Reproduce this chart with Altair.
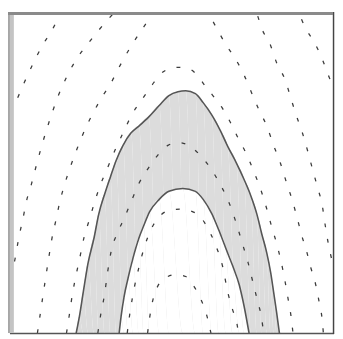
import altair as alt
import pandas as pd

# Contour curves, each listed left -> right.
# x: 0..100 across the frame, y: 0..100 bottom -> top.
dm1_x = [42.6, 43.2, 44.1, 45.6, 48.3, 51.4, 54.4, 57.1, 59.2, 61.0, 62.2]
dm1_y = [0, 4.6, 9.7, 14.3, 17.3, 18.2, 17.6, 14.3, 10.3, 5.2, 0]

d0_x = [36.3, 37.2, 38.4, 39.9, 41.7, 43.8, 46.8, 49.8, 52.9, 55.9, 58.9, 61.3, 63.4, 65.9, 67.4, 68.9, 70.4, 70.7]
d0_y = [0, 6.7, 13.7, 20.4, 27.1, 32.5, 36.8, 38.3, 38.6, 38.0, 36.2, 32.5, 28.0, 20.4, 12.8, 7.3, 2.1, 0]

s2_x = [33.8, 34.4, 35.3, 36.6, 38.1, 39.9, 41.4, 43.2, 46.2, 49.2, 53.5, 57.4, 59.8, 62.5, 64.7, 66.8, 68.9, 71.0, 72.5, 74.0]
s2_y = [0, 5.2, 11.2, 17.3, 23.4, 29.5, 33.4, 37.7, 41.6, 44.1, 45.0, 44.1, 41.6, 37.1, 31.9, 26.4, 21.0, 14.9, 8.2, 0]

d1_x = [27.2, 28.1, 29.3, 30.2, 31.4, 33.2, 35.3, 37.8, 39.9, 42.9, 46.2, 48.9, 52.0, 55.3, 58.9, 62.8, 65.6, 68.0, 70.1, 71.9, 73.7, 75.2, 76.7, 77.9, 78.5]
d1_y = [0, 5.8, 12.2, 18.8, 25.8, 31.0, 35.6, 41.6, 46.5, 51.4, 55.9, 58.4, 59.3, 58.4, 55.3, 50.2, 45.3, 40.1, 34.0, 28.0, 21.9, 15.8, 9.7, 4.6, 0]

s1_x = [20.5, 21.5, 22.7, 24.2, 26.0, 27.5, 29.3, 31.1, 32.9, 35.0, 37.5, 39.9, 42.9, 46.2, 49.2, 52.0, 54.4, 57.4, 59.8, 62.5, 65.0, 67.4, 70.1, 72.5, 74.6, 76.4, 77.9, 79.5, 80.7, 81.6, 82.5, 83.4]
s1_y = [0, 5.2, 12.8, 21.9, 29.5, 37.1, 43.2, 48.6, 53.8, 58.4, 62.3, 64.4, 67.2, 70.8, 73.9, 75.1, 75.4, 74.5, 71.7, 67.8, 63.2, 58.1, 52.9, 47.7, 42.6, 37.1, 31.0, 24.9, 18.8, 12.8, 6.7, 0]

d2_x = [17.5, 18.4, 19.3, 20.5, 21.8, 23.0, 24.5, 26.0, 27.8, 30.2, 32.6, 35.3, 37.8, 40.8, 43.8, 46.2, 48.9, 52.0,
        55.0, 58.0, 60.4, 62.8, 65.6, 68.0, 70.4, 73.1, 75.5, 77.6, 79.5, 81.0, 82.5, 84.0, 85.2, 86.1, 87.0, 87.6]
d2_y = [0, 5.8, 11.9, 18.2, 24.3, 30.1, 35.0, 40.1, 45.6, 51.4, 57.1, 62.9, 68.1, 72.6, 76.9, 80.2, 82.1, 82.7,
        82.4, 80.2, 76.9, 73.9, 70.2, 66.0, 61.1, 55.9, 50.2, 44.7, 38.6, 33.1, 28.0, 21.9, 15.8, 10.6, 5.2, 0]

d3_x = [8.5, 9.4, 10.3, 11.2, 12.1, 13.0, 14.2, 15.4, 16.9, 18.7, 20.8, 23.3, 25.7, 28.4, 31.1, 34.1, 37.2, 40.5, 44.4,
        52.9,
        61.0, 64.0, 66.5, 70.1, 72.5, 74.9, 77.0, 79.5, 81.6, 83.7, 85.5, 87.3, 88.8, 90.3, 91.8, 93.1, 94.6, 95.8, 96.7, 97.0]
d3_y = [0, 6.1, 12.2, 18.2, 24.0, 29.5, 35.0, 40.7, 46.2, 51.7, 57.4, 63.5, 68.4, 73.3, 77.5, 83.3, 88.8, 93.9, 99.4,
        104.9,
        100, 94.8, 90.3, 84.8, 80.2, 74.5, 69.6, 64.4, 58.4, 52.9, 47.1, 41.6, 36.2, 30.4, 25.5, 20.4, 15.2, 9.1, 3.6, 0]

d4_x = [-0.6, 0.6, 1.8, 2.7, 3.9, 5.1, 6.6, 8.2, 9.7, 11.5, 13.0, 15.1, 17.5, 20.5, 23.9, 27.2, 32.0,
        54.1,
        76.1, 77.9, 80.7, 82.5, 85.2, 87.0, 88.5, 90.6, 92.1, 93.7, 95.2, 96.7, 97.6, 98.5, 99.7, 101.2]
d4_y = [12.8, 18.2, 24.3, 29.5, 35.0, 41.0, 46.2, 52.3, 57.8, 63.8, 68.4, 74.2, 79.6, 85.1, 89.7, 93.9, 99.4,
        114.6,
        100, 94.8, 89.4, 84.2, 78.7, 72.9, 68.1, 62.0, 56.8, 50.8, 45.3, 39.5, 33.4, 28.0, 22.5, 17.3]

d5_x = [-1.5, 0.0, 2.1, 4.5, 6.9, 10.0, 13.0, 16.0,
        52.6,
        89.1, 91.5, 94.3, 96.7, 98.8, 100.6, 102.1]
d5_y = [64.4, 68.4, 72.6, 78.1, 83.3, 89.4, 94.2, 100,
        129.8,
        100, 94.8, 90.3, 85.1, 79.6, 75.1, 70.5]

dashed = {"d-1": (dm1_x, dm1_y), "d0": (d0_x, d0_y), "d1": (d1_x, d1_y),
          "d2": (d2_x, d2_y), "d3": (d3_x, d3_y), "d4": (d4_x, d4_y), "d5": (d5_x, d5_y)}
solid = {"s1": (s1_x, s1_y), "s2": (s2_x, s2_y)}


def frame(curves):
    rows = []
    for name, (xs, ys) in curves.items():
        for i, (x, y) in enumerate(zip(xs, ys)):
            rows.append({"curve": name, "i": i, "x": x, "y": y})
    return pd.DataFrame(rows)


W, H = 331, 326
xs = alt.Scale(domain=[0, 100], nice=False, zero=False)
ys = alt.Scale(domain=[0, 99], nice=False, zero=False)
X = alt.X("x:Q", scale=xs, axis=None)
Y = alt.Y("y:Q", scale=ys, axis=None)

band_fill = alt.Chart(frame({"s1": solid["s1"]})).mark_area(
    color="#dcdcdc", interpolate="monotone", clip=True
).encode(x=X, y=Y, order="i:Q")

inner_fill = alt.Chart(frame({"s2": solid["s2"]})).mark_area(
    color="#ffffff", interpolate="monotone", clip=True
).encode(x=X, y=Y, order="i:Q")

dashed_lines = alt.Chart(frame(dashed)).mark_line(
    color="#3c3c3c", strokeWidth=1.3, strokeDash=[4, 12], interpolate="monotone", clip=True
).encode(x=X, y=Y, detail="curve:N", order="i:Q")

solid_lines = alt.Chart(frame(solid)).mark_line(
    color="#555555", strokeWidth=1.6, interpolate="monotone", clip=True
).encode(x=X, y=Y, detail="curve:N", order="i:Q")

one = pd.DataFrame({"k": [0]})
left_outer = alt.Chart(one).mark_rule(color="#a6a6a6", strokeWidth=2).encode(
    x=alt.value(-1), y=alt.value(-3), y2=alt.value(H))
left_inner = alt.Chart(one).mark_rule(color="#c4c4c4", strokeWidth=4).encode(
    x=alt.value(2), y=alt.value(0), y2=alt.value(H))
top_band = alt.Chart(one).mark_rule(color="#8a8a8a", strokeWidth=3).encode(
    y=alt.value(-1.5), x=alt.value(-2), x2=alt.value(W))
right_line = alt.Chart(one).mark_rule(color="#444444", strokeWidth=1.5).encode(
    x=alt.value(W + 0.5), y=alt.value(-3), y2=alt.value(H + 1))
bottom_line = alt.Chart(one).mark_rule(color="#555555", strokeWidth=1.5).encode(
    y=alt.value(H + 0.5), x=alt.value(0), x2=alt.value(W + 1))

chart = alt.layer(
    band_fill, inner_fill, dashed_lines, solid_lines,
    bottom_line, right_line, left_inner, left_outer, top_band
).properties(
    width=W, height=H,
    padding={"left": 2, "top": 3, "right": 2, "bottom": 2},
    autosize=alt.AutoSizeParams(type="none"),
).configure_view(stroke=None)

chart.save("out.html", embed_options={"renderer": "svg", "actions": False})
